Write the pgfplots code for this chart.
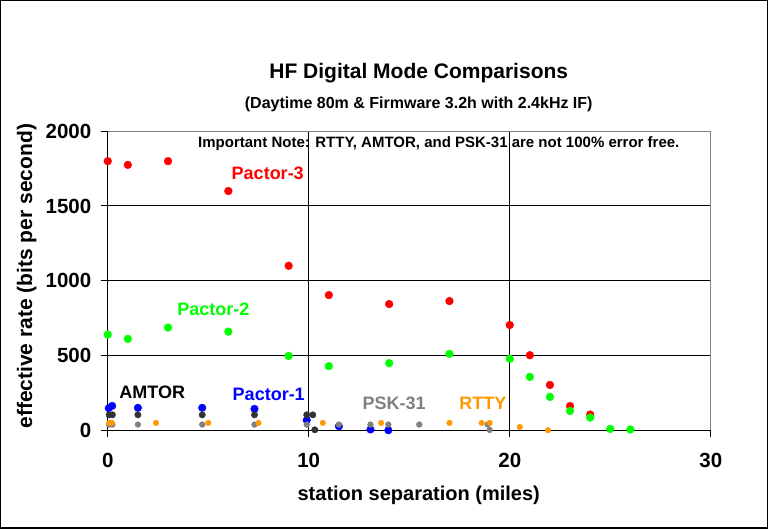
\documentclass[border=0pt]{standalone}
\usepackage{pgfplots}
\pgfplotsset{compat=1.18}
\usepackage{fontspec}
\setmainfont{Liberation Sans}
\definecolor{rttyor}{HTML}{FF9900}
\definecolor{amtor}{HTML}{333333}
\definecolor{psk}{HTML}{808080}
\definecolor{pgreen}{HTML}{00FF00}
\begin{document}
\begin{tikzpicture}
\begin{axis}[name=ax,
  width=603pt, height=299pt, scale only axis,
  xmin=0, xmax=30, ymin=0, ymax=2000,
  xtick={0,10,20,30}, ytick={0,500,1000,1500,2000},
  axis x line*=bottom, axis y line*=left,
  tick align=outside, major tick length=7pt,
  tick style={black, line width=1pt},
  axis line style={black, line width=1pt},
  ticklabel style={font=\fontsize{20.5}{22}\selectfont\bfseries},
  xticklabel style={yshift=-12pt},
  yticklabel style={xshift=-6pt},
  /pgf/number format/assume math mode=true,
  /pgf/number format/1000 sep={},
  clip=false,
]
\draw[black, line width=1pt] (axis cs:10,0) -- (axis cs:10,2000);
\draw[black, line width=1pt] (axis cs:20,0) -- (axis cs:20,2000);
\draw[black, line width=1pt] (axis cs:0,500) -- (axis cs:30,500);
\draw[black, line width=1pt] (axis cs:0,1000) -- (axis cs:30,1000);
\draw[black, line width=1pt] (axis cs:0,1500) -- (axis cs:30,1500);
\draw[gray, line width=1pt] (axis cs:0,2000) -- (axis cs:30,2000) -- (axis cs:30,0);

% Pactor-3
\addplot[only marks, mark=*, mark size=3.9pt, mark options={fill=red, draw=red}] coordinates {
(0,1800) (1,1775) (3,1800) (6,1600) (9,1100) (11,904) (14,844) (17,864) (20,704) (21,502) (22,303) (23,162) (24,105)};
% Pactor-2
\addplot[only marks, mark=*, mark size=3.9pt, mark options={fill=pgreen, draw=pgreen}] coordinates {
(0,640) (1,611) (3,687) (6,660) (9,497) (11,429) (14,449) (17,511) (20,478) (21,357) (22,223) (23,129) (24,85) (25,9) (26,5)};
% Pactor-1
\addplot[only marks, mark=*, mark size=3.8pt, mark options={fill=blue, draw=blue}] coordinates {
(0.05,148) (0.22,163) (1.5,150) (4.7,150) (7.3,143) (9.9,67) (11.5,27) (13.07,5) (13.96,0)};
% AMTOR
\addplot[only marks, mark=*, mark size=3.2pt, mark options={fill=amtor, draw=amtor}] coordinates {
(0.07,103) (0.23,103) (1.5,103) (4.7,103) (7.3,103) (9.9,103) (10.2,103) (10.3,3)};
% PSK-31
\addplot[only marks, mark=*, mark size=2.9pt, mark options={fill=psk, draw=psk}] coordinates {
(0.07,38) (0.23,38) (1.5,38) (4.7,38) (7.3,38) (9.9,38) (11.5,38) (13.07,38) (13.96,38) (15.5,38) (18.9,38) (19.0,2)};
% RTTY
\addplot[only marks, mark=*, mark size=2.8pt, mark options={fill=rttyor, draw=rttyor}] coordinates {
(0.07,49) (0.2,49) (2.4,49) (5.0,49) (7.5,49) (10.7,49) (13.6,49) (17.0,49) (18.6,49) (19.0,49) (20.5,22) (21.9,0)};

\node[font=\fontsize{18}{20}\selectfont\bfseries, text=red] at (axis cs:7.96,1719) {Pactor-3};
\node[font=\fontsize{18}{20}\selectfont\bfseries, text=pgreen] at (axis cs:5.25,807) {Pactor-2};
\node[font=\fontsize{18}{20}\selectfont\bfseries, text=black] at (axis cs:2.21,257) {AMTOR};
\node[font=\fontsize{18}{20}\selectfont\bfseries, text=blue] at (axis cs:8.01,241) {Pactor-1};
\node[font=\fontsize{18}{20}\selectfont\bfseries, text=psk] at (axis cs:14.25,178) {PSK-31};
\node[font=\fontsize{18}{20}\selectfont\bfseries, text=rttyor] at (axis cs:18.66,178) {RTTY};
\node[font=\fontsize{15}{17}\selectfont\bfseries, text=black] at (axis cs:16.47,1920) {Important Note: RTTY, AMTOR, and PSK-31 are not 100\% error free.};
\end{axis}
\node[font=\fontsize{21}{23}\selectfont\bfseries] at ([xshift=9.5pt,yshift=58pt]ax.north) {HF Digital Mode Comparisons};
\node[font=\fontsize{16}{18}\selectfont\bfseries] at ([xshift=9.5pt,yshift=27pt]ax.north) {(Daytime 80m \& Firmware 3.2h with 2.4kHz IF)};
\node[font=\fontsize{20}{22}\selectfont\bfseries] at ([xshift=9.5pt,yshift=-65pt]ax.south) {station separation (miles)};
\node[font=\fontsize{21}{23}\selectfont\bfseries, rotate=90] at ([xshift=-81pt,yshift=4.5pt]ax.west) {effective rate (bits per second)};
\draw[line width=1.5pt] ([xshift=-107pt,yshift=-98pt]ax.south west) rectangle ([xshift=56.5pt,yshift=130.5pt]ax.north east);
\end{tikzpicture}
\end{document}
